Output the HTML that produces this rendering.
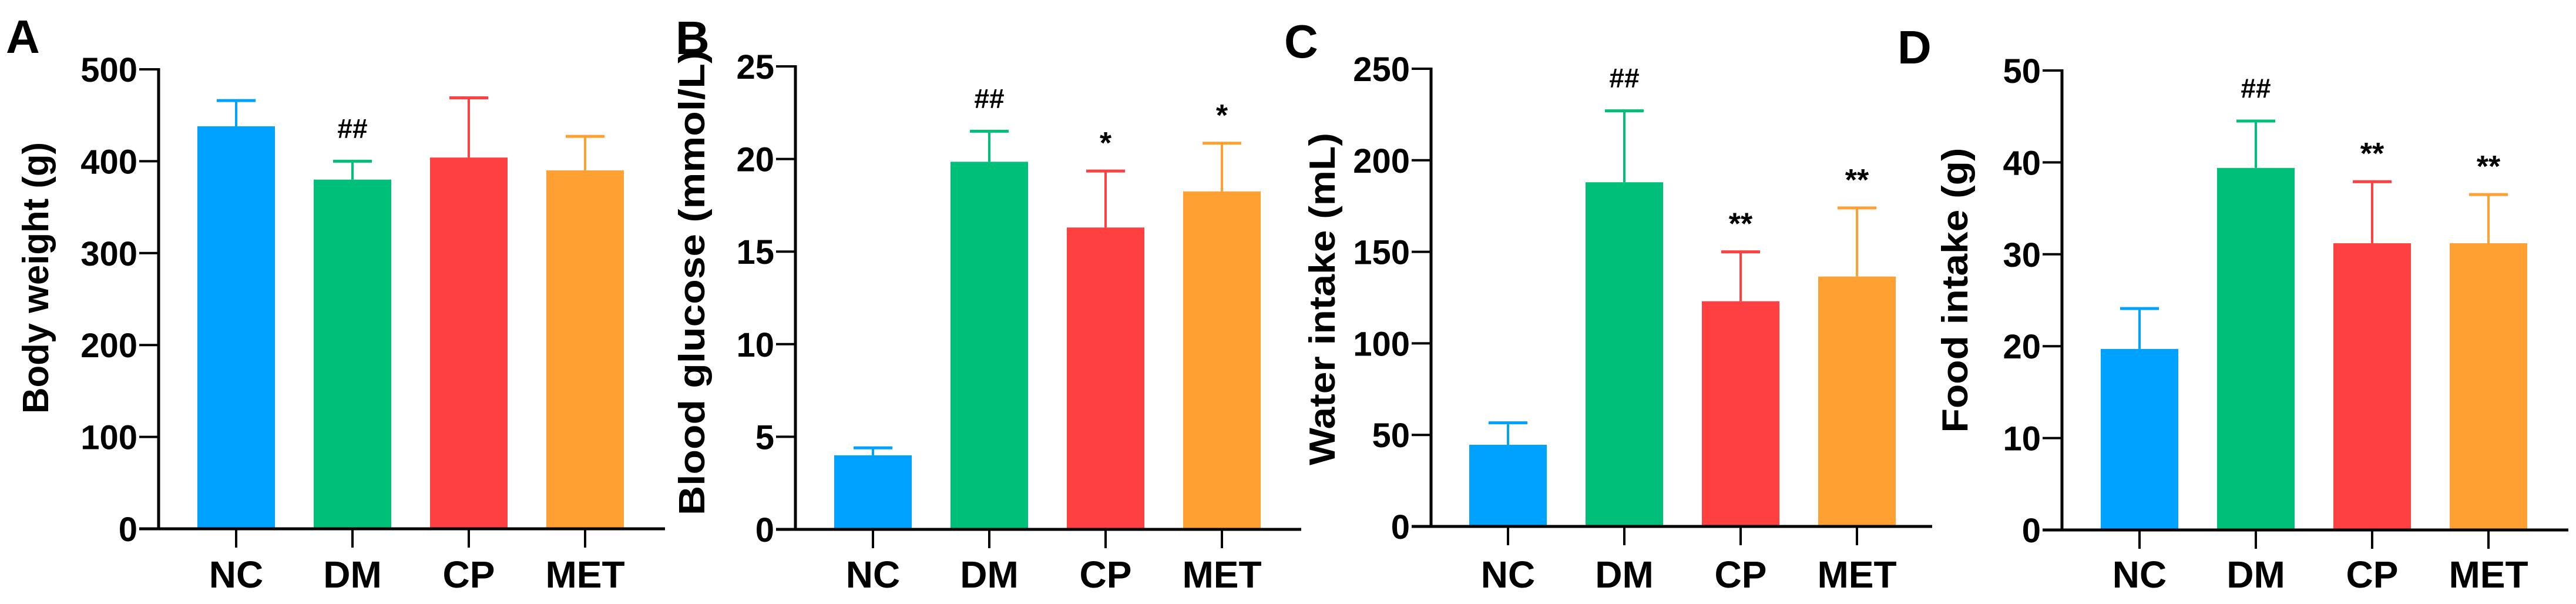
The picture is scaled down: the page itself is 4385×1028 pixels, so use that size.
<!DOCTYPE html>
<html><head><meta charset="utf-8"><style>
html,body{margin:0;padding:0;background:#fff;}
svg{display:block;font-family:"Liberation Sans",Arial,sans-serif;font-weight:bold;}
</style></head><body>
<svg id="chart" width="4385" height="1028" viewBox="0 0 4385 1028" xmlns="http://www.w3.org/2000/svg">
<text x="10" y="90" font-size="80">A</text>
<text x="1150" y="92" font-size="80">B</text>
<text x="2186" y="98" font-size="80">C</text>
<text x="3230" y="108" font-size="80">D</text>
</svg>
<script>
const categories = ["NC","DM","CP","MET"];
const colors = ["#00A2FF","#00BF78","#FF4040","#FFA033"];
const bodyWeight = [438,380,404,390];
const bodyWeightErr = [466,400,469,427];
const bodyWeightSig = ["","##","",""];
const bodyWeightTicks = [0,100,200,300,400,500];
const glucose = [4.0,19.85,16.3,18.25];
const glucoseErr = [4.4,21.5,19.35,20.85];
const glucoseSig = ["","##","*","*"];
const glucoseTicks = [0,5,10,15,20,25];
const water = [44.6,188,123,136.5];
const waterErr = [56.6,227,150,174];
const waterSig = ["","##","**","**"];
const waterTicks = [0,50,100,150,200,250];
const food = [19.7,39.4,31.2,31.2];
const foodErr = [24.1,44.5,37.9,36.5];
const foodSig = ["","##","**","**"];
const foodTicks = [0,10,20,30,40,50];

const svg = document.getElementById('chart');
const NS = "http://www.w3.org/2000/svg";
function mk(tag, attrs){const e=document.createElementNS(NS,tag);for(const k in attrs)e.setAttribute(k,attrs[k]);svg.appendChild(e);return e;}

const panels = [
 {id:'a',ax:270,x0:402,xEnd:1132,yTop:118,yBot:900,vals:bodyWeight,errs:bodyWeightErr,sig:bodyWeightSig,ticks:bodyWeightTicks,title:"Body weight (g)",tx:60,ty:473,tl:462},
 {id:'b',ax:1354,x0:1486,xEnd:2215,yTop:113,yBot:901,vals:glucose,errs:glucoseErr,sig:glucoseSig,ticks:glucoseTicks,title:"Blood glucose (mmol/L)",tx:1177,ty:481,tl:792},
 {id:'c',ax:2436,x0:2567,xEnd:3289,yTop:117,yBot:896,vals:water,errs:waterErr,sig:waterSig,ticks:waterTicks,title:"Water intake (mL)",tx:2250,ty:509,tl:566},
 {id:'d',ax:3510,x0:3642,xEnd:4372,yTop:120,yBot:902,vals:food,errs:foodErr,sig:foodSig,ticks:foodTicks,title:"Food intake (g)",tx:3327,ty:494,tl:485}
];
const step = 198, barW = 132, capW = 66;

panels.forEach(p=>{
  const max = p.ticks[p.ticks.length-1];
  const y = v => p.yBot - (v/max)*(p.yBot-p.yTop);
  const x = i => p.x0 + i*step;
  // bars
  p.vals.forEach((v,i)=>{
    const r = mk('rect',{x:x(i)-barW/2,y:y(v),width:barW,height:p.yBot-y(v),fill:colors[i]});
    
    
    const l = mk('line',{x1:x(i),x2:x(i),y1:y(v),y2:y(p.errs[i]),stroke:colors[i],'stroke-width':4});
    
    
    const c = mk('line',{x1:x(i)-capW/2,x2:x(i)+capW/2,y1:y(p.errs[i]),y2:y(p.errs[i]),stroke:colors[i],'stroke-width':5});
    
    
    if(p.sig[i]){
      const s = mk('text',{x:x(i),y:y(p.errs[i])-(p.sig[i][0]=='#'?40:30),'font-size':p.sig[i][0]=='#'?46:52,'text-anchor':'middle'});
      s.textContent = p.sig[i];
      
      
    }
    const t = mk('line',{x1:x(i),x2:x(i),y1:p.yBot,y2:p.yBot+32,stroke:'#000','stroke-width':4});
    
    
    const lab = mk('text',{x:x(i),y:1000,'font-size':64,'text-anchor':'middle'});
    lab.textContent = categories[i];
    
    
  });
  // axes
  const ya = mk('line',{x1:p.ax,x2:p.ax,y1:p.yTop-2,y2:p.yBot+2,stroke:'#000','stroke-width':5});
  
  
  const xa = mk('line',{x1:p.ax-33,x2:p.xEnd,y1:p.yBot,y2:p.yBot,stroke:'#000','stroke-width':5});
  
  
  p.ticks.forEach(tv=>{
    const tk = mk('line',{x1:p.ax-33,x2:p.ax,y1:y(tv),y2:y(tv),stroke:'#000','stroke-width':4});
    
    
    const tl = mk('text',{x:p.ax-36,y:y(tv)+21,'font-size':58,'text-anchor':'end'});
    tl.textContent = tv;
    
    
  });
  const tt = mk('text',{x:0,y:0,'font-size':62,'text-anchor':'middle',transform:'translate('+(p.tx+22)+','+p.ty+') rotate(-90)',textLength:p.tl,lengthAdjust:'spacingAndGlyphs'});
  tt.textContent = p.title;
  
  
});
</script>
</body></html>
